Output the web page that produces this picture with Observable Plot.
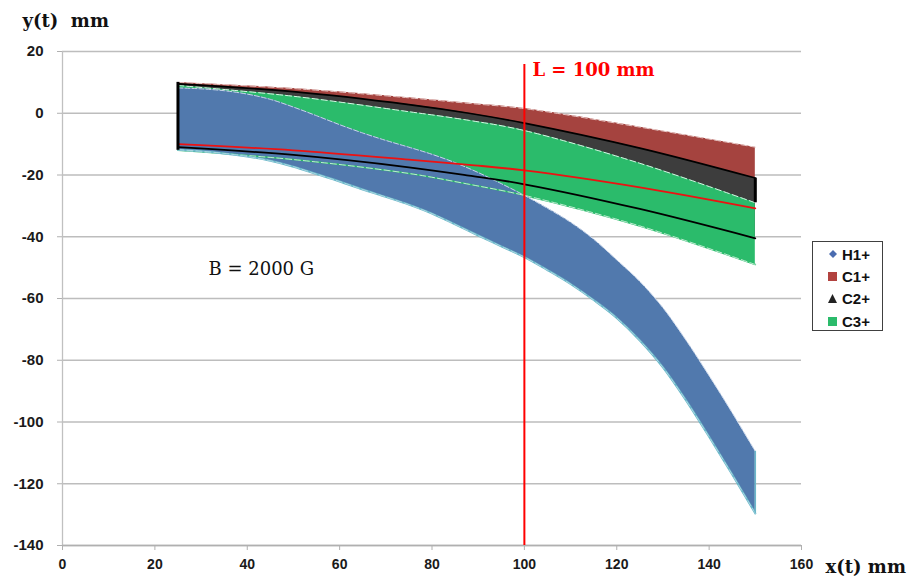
<!DOCTYPE html>
<html>
<head>
<meta charset="utf-8">
<script src="https://cdn.jsdelivr.net/npm/d3@7"></script>
<script src="https://cdn.jsdelivr.net/npm/@observablehq/plot@0.6"></script>
<style>
  body { margin: 0; background: #fff; }
  #wrap { position: relative; width: 909px; height: 576px; overflow: hidden; }
  #wrap svg { display: block; }
  #legend { position: absolute; left: 812px; top: 241px; width: 71px; height: 90px; box-sizing: border-box;
            border: 1px solid #404040; background: #fff; padding: 1px 0 0 15px;
            font: bold 15px "Liberation Sans", Arial, sans-serif; color: #111; }
  #legend .row { display: flex; align-items: center; height: 22.4px; }
  #legend .m { width: 9px; height: 9px; margin-right: 5px; display: flex; align-items: center; justify-content: center; }
</style>
</head>
<body>
<div id="wrap"></div>
<script>
// ---- tick labels ----
const xTicks = [0, 20, 40, 60, 80, 100, 120, 140, 160];
const yTicks = [20, 0, -20, -40, -60, -80, -100, -120, -140];

// ---- series names / colours ----
const seriesNames = ["H1+", "C1+", "C2+", "C3+"];
const seriesColors = ["#5179ad", "#a5433f", "#3d3d3d", "#2bbb6b"];

// ---- H1+ band (upper / lower trajectory envelope) ----
const h1X     = [25, 30, 35, 40, 45, 50, 55, 60, 65, 70, 75, 80, 85, 90, 95, 100, 105, 110, 115, 120, 125, 130, 135, 140, 145, 150];
const h1Upper = [8.2, 7.9, 7.3, 6.2, 4.5, 2, -0.8, -3.7, -6.4, -8.8, -11, -13.3, -16, -19.2, -22.8, -26.6, -30.8, -35.3, -40.8, -47.5, -54.5, -63, -73.5, -85, -97, -109.5];
const h1Lower = [-11.8, -12.3, -13, -14, -15.4, -17.3, -19.7, -22.1, -24.7, -27.1, -29.6, -32.5, -36, -39.6, -43.1, -46.6, -50.8, -55.3, -60.5, -66.3, -73.6, -82.3, -93, -104.8, -117, -129.6];

// ---- carbon ion bands ----
const cX      = [25, 50, 75, 88, 100, 125, 150];
const c1Upper = [10, 8, 5, 3.2, 1.5, -4.5, -11];
const c1Lower = [-10, -12, -15, -16.7, -18.5, -24, -30.8];
const c2Upper = [9.5, 7, 2.8, 0, -3.2, -11.3, -21];
const c2Lower = [-11, -13.5, -17.5, -20.2, -23, -31, -40.5];
const c3Upper = [9, 5.5, 0.5, -2.3, -5.6, -16.2, -29];
const c3Lower = [-12, -15, -19.5, -23, -26.6, -36.5, -49];

// ---- annotations ----
const detectorL = 100;
const detectorTop = 15.8;
const labelL = "L = 100 mm";
const labelB = "B = 2000 G";
const xLabel = "x(t) mm";
const yLabel = "y(t)  mm";

const band = (xs, up, lo) => xs.map((x, i) => ({x, y1: up[i], y2: lo[i]}));
const h1 = band(h1X, h1Upper, h1Lower);
const c1 = band(cX, c1Upper, c1Lower);
const c2 = band(cX, c2Upper, c2Lower);
const c3 = band(cX, c3Upper, c3Lower);
const first = d => [d[0]];
const last = d => [d[d.length - 1]];

const curve = "catmull-rom";
const hcurve = "monotone-x";
const serif = "'DejaVu Serif', 'Liberation Serif', serif";
const fmt = d => String(d);

const chart = Plot.plot({
  width: 909,
  height: 576,
  marginLeft: 62,
  marginRight: 108,
  marginTop: 51,
  marginBottom: 31,
  style: {fontFamily: "'Liberation Sans', Arial, sans-serif", background: "#fff", color: "#1a1a1a"},
  x: {domain: [0, 160], ticks: xTicks},
  y: {domain: [-140, 20], ticks: yTicks},
  marks: [
    Plot.gridY(yTicks, {stroke: "#bdbdbd", strokeOpacity: 1, strokeWidth: 1.3}),
    Plot.ruleX([0], {y1: -140, y2: 20, stroke: "#c0c0c0", strokeWidth: 1.3}),
    Plot.ruleY([-140], {stroke: "#b0b0b0", strokeWidth: 1.3}),
    Plot.axisY(yTicks, {tickSize: 5, tickPadding: 14, tickFormat: fmt, stroke: "#b0b0b0", fill: "#1a1a1a", fontWeight: "bold", fontSize: 15, label: null}),
    Plot.axisX(xTicks, {tickSize: 5, tickPadding: 9, tickFormat: fmt, stroke: "#b0b0b0", fill: "#1a1a1a", fontWeight: "bold", fontSize: 14, label: null}),

    // filled bands (drawn in order, each one covering the previous)
    Plot.areaY(c1, {x: "x", y1: "y1", y2: "y2", fill: seriesColors[1], curve}),
    Plot.areaY(c2, {x: "x", y1: "y1", y2: "y2", fill: seriesColors[2], curve}),
    Plot.areaY(c3, {x: "x", y1: "y1", y2: "y2", fill: seriesColors[3], curve}),
    Plot.areaY(h1, {x: "x", y1: "y1", y2: "y2", fill: seriesColors[0], curve: hcurve}),

    // trajectory edges
    Plot.line(c1, {x: "x", y: "y1", stroke: "#e8c8c6", strokeWidth: 1, strokeDasharray: "6,3", curve}),
    Plot.line(c3, {x: "x", y: "y1", stroke: "#d8f5e4", strokeWidth: 1, strokeDasharray: "6,3", curve}),
    Plot.line(c3, {x: "x", y: "y2", stroke: "#2bbb6b", strokeWidth: 1.6, curve}),
    Plot.line(c3, {x: "x", y: "y2", stroke: "#e6f7ec", strokeWidth: 0.8, strokeDasharray: "6,3", curve}),
    Plot.line(h1, {x: "x", y: "y1", stroke: "#c9d6ea", strokeWidth: 1, strokeDasharray: "5,2", curve: hcurve}),
    Plot.line(h1, {x: "x", y: "y2", stroke: "#6ab7c9", strokeWidth: 2, curve: hcurve}),
    Plot.line(h1, {x: "x", y: "y2", stroke: "#ffffff", strokeOpacity: 0.7, strokeWidth: 0.6, strokeDasharray: "6,3", curve: hcurve}),
    Plot.line(c2, {x: "x", y: "y1", stroke: "#000", strokeWidth: 1.6, curve}),
    Plot.line(c1, {x: "x", y: "y2", stroke: "#ee1111", strokeWidth: 1.8, curve}),
    Plot.line(c2, {x: "x", y: "y2", stroke: "#000", strokeWidth: 1.8, curve}),

    // end caps
    Plot.ruleX(last(h1), {x: "x", y1: "y1", y2: "y2", stroke: "#6ab7c9", strokeWidth: 1.5}),
    Plot.ruleX(last(c2), {x: "x", y1: "y1", y2: () => c3Upper[c3Upper.length - 1], stroke: "#000", strokeWidth: 3}),
    Plot.ruleX(first(c1), {x: "x", y1: "y1", y2: () => c3Lower[0], stroke: "#000", strokeWidth: 3}),

    // detector line
    Plot.ruleX([detectorL], {y1: -140, y2: detectorTop, stroke: "#ff0000", strokeWidth: 2}),

    // texts
    Plot.text([labelL], {x: detectorL, y: detectorTop, dx: 8, dy: 6, textAnchor: "start", fill: "#ff0000",
      fontFamily: serif, fontWeight: "bold", fontSize: 18}),
    Plot.text([labelB], {frameAnchor: "left", dx: 146, dy: -29, textAnchor: "start", fill: "#111",
      fontFamily: serif, fontSize: 18}),
    Plot.text([yLabel], {frameAnchor: "top-left", dx: -40, dy: -30, textAnchor: "start", lineAnchor: "middle",
      fill: "#111", fontFamily: serif, fontWeight: "bold", fontSize: 18}),
    Plot.text([xLabel], {frameAnchor: "bottom-right", dx: 24, dy: 22, textAnchor: "start", lineAnchor: "middle",
      fill: "#111", fontFamily: serif, fontWeight: "bold", fontSize: 18})
  ]
});

const wrap = document.getElementById("wrap");
wrap.appendChild(chart);

// legend
const markers = [
  '<svg width="8" height="8"><path d="M4 0 L8 4 L4 8 L0 4 Z" fill="#4a6cb0"/></svg>',
  '<svg width="9" height="9"><rect width="9" height="9" fill="#b2423f"/></svg>',
  '<svg width="9" height="9"><path d="M4.5 0 L9 9 L0 9 Z" fill="#222"/></svg>',
  '<svg width="9" height="9"><rect width="9" height="9" fill="#2bbb6b"/></svg>'
];
const legend = document.createElement("div");
legend.id = "legend";
legend.innerHTML = seriesNames.map((n, i) =>
  `<div class="row"><span class="m">${markers[i]}</span><span>${n}</span></div>`).join("");
wrap.appendChild(legend);
</script>
</body>
</html>
